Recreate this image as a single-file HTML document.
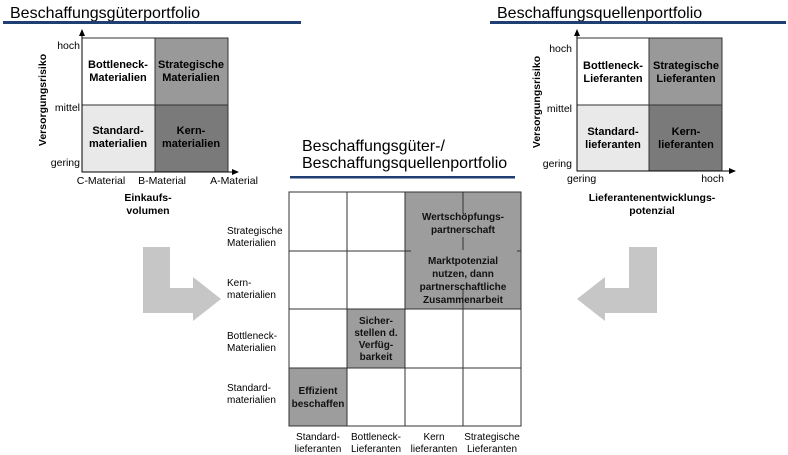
<!DOCTYPE html>
<html><head><meta charset="utf-8"><style>
html,body{margin:0;padding:0;background:#fff;width:788px;height:455px;overflow:hidden}
svg{display:block;font-family:"Liberation Sans",Arial,sans-serif}
</style></head><body>
<svg width="788" height="455" viewBox="0 0 788 455" xmlns="http://www.w3.org/2000/svg">
<defs>
<marker id="ah" markerWidth="8" markerHeight="8" refX="6" refY="3" orient="auto"><path d="M0,0 L7,3 L0,6 z" fill="#000"/></marker>
</defs>
<!-- Titles -->
<text x="10" y="18" font-size="16" fill="#000">Beschaffungsgüterportfolio</text>
<rect x="3" y="21" width="298" height="3" fill="#1f3f73"/>
<text x="497" y="18" font-size="16" fill="#000">Beschaffungsquellenportfolio</text>
<rect x="490" y="21" width="296" height="3" fill="#1f3f73"/>

<!-- Left portfolio -->
<rect x="82" y="38" width="73" height="67" fill="#fff" stroke="#333"/>
<rect x="155" y="38" width="73" height="67" fill="#999" stroke="#333"/>
<rect x="82" y="105" width="73" height="67" fill="#e9e9e9" stroke="#333"/>
<rect x="155" y="105" width="73" height="67" fill="#7a7a7a" stroke="#333"/>
<line x1="82" y1="172" x2="82" y2="30" stroke="#000" marker-end="url(#ah)"/>
<line x1="82" y1="172" x2="238" y2="172" stroke="#000" marker-end="url(#ah)"/>
<g font-size="11" font-weight="bold" text-anchor="middle">
<text x="118" y="68">Bottleneck-</text><text x="118" y="81">Materialien</text>
<text x="191" y="68">Strategische</text><text x="191" y="81">Materialien</text>
<text x="118" y="134">Standard-</text><text x="118" y="147">materialien</text>
<text x="191" y="134">Kern-</text><text x="191" y="147">materialien</text>
</g>
<g font-size="10.5" text-anchor="end">
<text x="80" y="49">hoch</text><text x="80" y="111">mittel</text><text x="80" y="166">gering</text>
</g>
<g font-size="10.5" text-anchor="middle">
<text x="101" y="184">C-Material</text><text x="162" y="184">B-Material</text><text x="234" y="184">A-Material</text>
</g>
<g font-size="10.5" font-weight="bold" text-anchor="middle">
<text x="148" y="201">Einkaufs-</text><text x="148" y="214">volumen</text>
<text transform="translate(46,100) rotate(-90)">Versorgungsrisiko</text>
</g>

<!-- Right portfolio -->
<rect x="577" y="38" width="72" height="67" fill="#fff" stroke="#333"/>
<rect x="649" y="38" width="73" height="67" fill="#999" stroke="#333"/>
<rect x="577" y="105" width="72" height="66" fill="#e9e9e9" stroke="#333"/>
<rect x="649" y="105" width="73" height="66" fill="#7a7a7a" stroke="#333"/>
<line x1="577" y1="171" x2="577" y2="30" stroke="#000" marker-end="url(#ah)"/>
<line x1="577" y1="171" x2="735" y2="171" stroke="#000" marker-end="url(#ah)"/>
<g font-size="11" font-weight="bold" text-anchor="middle">
<text x="613" y="69">Bottleneck-</text><text x="613" y="82">Lieferanten</text>
<text x="686" y="69">Strategische</text><text x="686" y="82">Lieferanten</text>
<text x="613" y="135">Standard-</text><text x="613" y="148">lieferanten</text>
<text x="686" y="135">Kern-</text><text x="686" y="148">lieferanten</text>
</g>
<g font-size="10.5" text-anchor="end">
<text x="572" y="52">hoch</text><text x="572" y="112">mittel</text><text x="572" y="167">gering</text>
</g>
<g font-size="10.5">
<text x="567" y="182">gering</text><text x="724" y="182" text-anchor="end">hoch</text>
</g>
<g font-size="10.5" font-weight="bold" text-anchor="middle">
<text x="652" y="201">Lieferantenentwicklungs-</text><text x="652" y="214">potenzial</text>
<text transform="translate(540,102) rotate(-90)">Versorgungsrisiko</text>
</g>

<!-- Center -->
<text x="302" y="151" font-size="16">Beschaffungsgüter-/</text>
<text x="302" y="168" font-size="16">Beschaffungsquellenportfolio</text>
<rect x="290" y="176" width="225" height="2.5" fill="#1f3f73"/>
<g stroke="#333" stroke-width="1">
<rect x="289" y="192" width="232" height="234" fill="#fff"/>
<rect x="405" y="192" width="116" height="117" fill="#9d9d9d"/>
<rect x="347" y="309" width="58" height="59" fill="#9d9d9d"/>
<rect x="289" y="368" width="58" height="58" fill="#9d9d9d"/>
<line x1="347" y1="192" x2="347" y2="426"/>
<line x1="405" y1="192" x2="405" y2="426"/>
<line x1="463" y1="309" x2="463" y2="426"/>
<line x1="289" y1="251" x2="405" y2="251"/>
<line x1="289" y1="309" x2="521" y2="309"/>
<line x1="289" y1="368" x2="521" y2="368"/>
<line x1="463" y1="192" x2="463" y2="213"/>
<line x1="463" y1="237" x2="463" y2="250"/>
<line x1="463" y1="290" x2="463" y2="309"/>
<line x1="405" y1="251" x2="411" y2="251"/>
<line x1="517" y1="251" x2="521" y2="251"/>
</g>
<g font-size="10" text-anchor="middle" font-weight="bold" fill="#111">
<text x="463" y="220">Wertschöpfungs-</text><text x="463" y="233">partnerschaft</text>
<text x="463" y="264">Marktpotenzial</text><text x="463" y="277">nutzen, dann</text><text x="463" y="290">partnerschaftliche</text><text x="463" y="303">Zusammenarbeit</text>
<text x="376" y="324">Sicher-</text><text x="376" y="336">stellen d.</text><text x="376" y="348">Verfüg-</text><text x="376" y="360">barkeit</text>
<text x="318" y="394">Effizient</text><text x="318" y="407">beschaffen</text>
</g>
<g font-size="10">
<text x="227" y="234">Strategische</text><text x="227" y="246">Materialien</text>
<text x="227" y="286">Kern-</text><text x="227" y="298">materialien</text>
<text x="227" y="339">Bottleneck-</text><text x="227" y="351">Materialien</text>
<text x="227" y="391">Standard-</text><text x="227" y="403">materialien</text>
</g>
<g font-size="10" text-anchor="middle">
<text x="318" y="440">Standard-</text><text x="318" y="452">lieferanten</text>
<text x="376" y="440">Bottleneck-</text><text x="376" y="452">Lieferanten</text>
<text x="434" y="440">Kern</text><text x="434" y="452">lieferanten</text>
<text x="492" y="440">Strategische</text><text x="492" y="452">Lieferanten</text>
</g>

<!-- Arrows -->
<polygon points="143,247 170,247 170,288 193,288 193,277 221,299 193,321 193,313 143,313" fill="#c6c6c6"/>
<polygon points="657,247 629,247 629,288 605,288 605,277 577,299 605,321 605,313 657,313" fill="#c6c6c6"/>
</svg>
</body></html>
